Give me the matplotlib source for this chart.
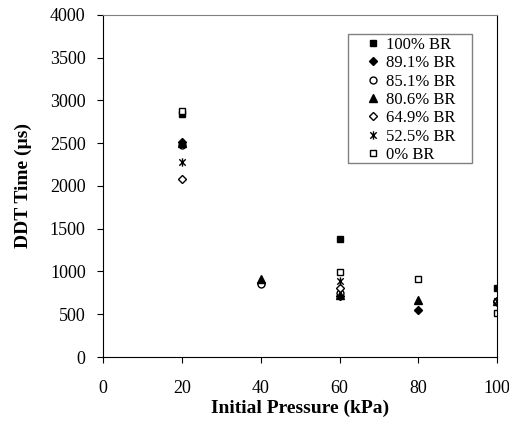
import matplotlib
matplotlib.use('Agg')
import matplotlib.pyplot as plt
from matplotlib.path import Path
from matplotlib.patches import Rectangle

plt.rcParams['font.family'] = ['Liberation Serif', 'DejaVu Serif']

# initial pressure (kPa) and DDT time (us) per blockage ratio
p_100 = [20, 60, 100]
t_100 = [2840, 1380, 805]
p_891 = [20, 40, 60, 80, 100]
t_891 = [2510, 870, 710, 545, 640]
p_851 = [20, 40, 60, 100]
t_851 = [2480, 850, 750, 650]
p_806 = [20, 40, 60, 80, 100]
t_806 = [2500, 910, 720, 670, 655]
p_649 = [20, 60, 100]
t_649 = [2075, 805, 650]
p_525 = [20, 60, 100]
t_525 = [2275, 890, 650]
p_0 = [20, 60, 80, 100]
t_0 = [2870, 995, 915, 515]

# excel style star: an x with a vertical bar
star = Path([(-1, -1), (1, 1), (-1, 1), (1, -1), (0, -1.3), (0, 1.3)],
            [Path.MOVETO, Path.LINETO, Path.MOVETO, Path.LINETO, Path.MOVETO, Path.LINETO])

fig = plt.figure(figsize=(5.1, 4.23), dpi=100)
ax = fig.add_axes([0.202, 0.156, 0.773, 0.809])

ms = 5
ax.plot(p_100, t_100, 's', color='black', ms=ms, label='100% BR')
ax.plot(p_891, t_891, 'D', color='black', ms=ms - 0.8, label='89.1% BR')
ax.plot(p_851, t_851, 'o', mfc='white', mec='black', ms=ms, label='85.1% BR')
ax.plot(p_806, t_806, '^', color='black', ms=ms + 0.5, label='80.6% BR')
ax.plot(p_649, t_649, 'D', mfc='white', mec='black', ms=ms - 0.8, label='64.9% BR')
ax.plot(p_525, t_525, ls='none', marker=star, color='black', ms=ms + 1, mew=1.0, label='52.5% BR')
ax.plot(p_0, t_0, 's', mfc='white', mec='black', ms=ms, label='0% BR')

ax.set_xlim(0, 100)
ax.set_ylim(0, 4000)
ax.set_xticks([0, 20, 40, 60, 80, 100])
ax.set_yticks(range(0, 4001, 500))
ax.tick_params(direction='out', length=4.5, labelsize=13, color='black')
ax.tick_params(axis='x', pad=12)
ax.tick_params(axis='y', pad=8)
ax.spines['top'].set_color('#808080')
for s in ['left', 'bottom', 'right']:
    ax.spines[s].set_color('black')
ax.set_xlabel('Initial Pressure (kPa)', fontsize=14, fontweight='bold', labelpad=2)
ax.set_ylabel('DDT Time (µs)', fontsize=14, fontweight='bold', labelpad=13)

# legend without its own frame; box drawn separately to get excel-like padding
leg = ax.legend(loc='upper left', bbox_to_anchor=(368 / 510, 1 - 37 / 423),
                bbox_transform=fig.transFigure, fontsize=12, frameon=False,
                handlelength=0.6, handletextpad=0.5, borderpad=0.0,
                borderaxespad=0.0, labelspacing=0.14)
box = Rectangle((348 / 510, 1 - 163 / 423), 124 / 510, 129 / 423,
                transform=fig.transFigure, fill=False, edgecolor='#808080', lw=1.0)
fig.patches.append(box)

fig.savefig('out.png', dpi=100)
